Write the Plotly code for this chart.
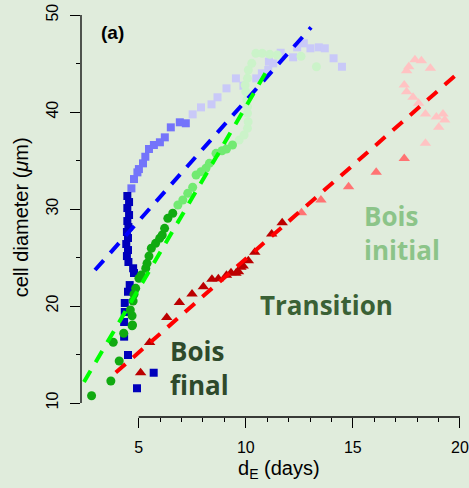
import plotly.graph_objects as go

# ---- measured cell diameters (um) against d_E (days) ----
# blue squares: final / transition / initial wood
blue_final_x = [4.92, 5.70, 4.50, 4.32, 4.32, 4.35, 4.35, 4.50, 4.58, 4.78, 4.74,
                4.52, 4.45, 4.50, 4.42, 4.50, 4.45, 4.52, 4.47, 4.55, 4.47, 4.55, 4.47]
blue_final_y = [11.52, 13.12, 14.95, 16.84, 18.35, 19.38, 20.31, 21.47, 22.16, 23.40, 23.89,
                24.54, 25.15, 25.77, 26.39, 27.01, 27.63, 28.14, 28.76, 29.38, 30.10, 30.72, 31.34]
blue_trans_x = [4.66, 4.78, 4.94, 5.01, 5.20, 5.31, 5.48, 5.71, 5.99, 6.22, 6.50, 6.92, 7.20]
blue_trans_y = [32.13, 33.09, 33.78, 34.12, 34.71, 35.39, 36.19, 36.60, 36.88, 37.39, 38.42, 38.94, 38.84]
blue_init_x = [7.52, 7.91, 8.40, 8.68, 9.10, 9.54, 9.89, 10.49, 10.75, 11.05, 11.08, 11.28,
               11.63, 12.21, 12.40, 12.71, 13.02, 13.41, 13.69, 14.10, 14.49]
blue_init_y = [39.76, 40.48, 40.79, 41.52, 42.44, 43.47, 42.71, 43.47, 43.99, 44.33, 45.19, 45.02,
               46.11, 45.64, 46.67, 47.08, 46.57, 46.67, 46.57, 45.54, 44.67]

# green circles
green_final_x = [2.80, 3.70, 4.09, 3.81, 4.30, 4.69, 4.71, 4.69, 4.61, 4.74, 4.78, 4.86, 5.01,
                 5.12, 5.33, 5.39, 5.48, 5.59, 5.79, 5.98, 6.10, 6.21, 6.36, 6.59]
green_final_y = [10.75, 12.27, 14.33, 16.26, 17.19, 17.97, 18.04, 19.00, 19.59, 20.52, 21.21, 21.82, 22.85,
                 23.20, 23.89, 24.40, 25.15, 25.95, 26.46, 26.98, 27.32, 28.01, 29.04, 29.56]
green_trans_x = [6.83, 7.06, 7.29, 7.52, 7.68, 7.91, 8.14, 8.30, 8.61, 8.89, 9.10, 9.38]
green_trans_y = [30.41, 30.93, 31.62, 32.24, 33.51, 33.85, 34.20, 34.71, 35.74, 36.01, 36.19, 36.60]
green_init_x = [9.69, 9.92, 10.08, 10.11, 10.08, 10.08, 10.05, 10.00, 9.97, 10.08, 10.12, 10.28,
                10.47, 10.77, 11.12, 11.47, 12.58, 13.30]
green_init_y = [37.11, 37.63, 38.32, 39.00, 39.87, 40.55, 41.24, 42.09, 42.78, 43.47, 44.33, 45.02,
                46.05, 46.05, 45.95, 45.88, 45.74, 44.67]

# red triangles
red_final_x = [5.09, 5.51, 6.31, 6.90, 7.49, 8.02, 8.42, 8.72, 9.10, 9.31, 9.54, 9.66,
               9.77, 9.88, 10.12, 10.42, 11.21, 11.70]
red_final_y = [13.12, 16.24, 18.81, 20.36, 21.24, 21.99, 22.75, 22.81, 23.16, 23.43, 23.37, 23.54,
               23.99, 24.12, 24.67, 25.54, 27.42, 28.59]
red_trans_x = [12.60, 13.51, 14.80, 16.09, 17.40]
red_trans_y = [29.62, 30.93, 32.30, 33.78, 35.21]
red_init_x = [18.39, 19.01, 19.29, 18.90, 19.21, 18.39, 18.07, 17.81, 17.51, 17.40, 17.51,
              17.61, 17.90, 18.20, 18.62]
red_init_y = [36.77, 38.42, 39.18, 39.48, 39.79, 39.79, 40.90, 41.52, 42.09, 42.78, 44.26,
              44.67, 45.39, 45.28, 44.51]

# linear fits (end points)
blue_fit_x = [2.96, 13.05]
blue_fit_y = [23.71, 48.73]
green_fit_x = [1.90, 10.96]
green_fit_y = [10.12, 44.16]
red_fit_x = [3.93, 19.76]
red_fit_y = [13.14, 43.71]

x_ticks = [5, 10, 15, 20]
x_minor = [6, 7, 8, 9, 11, 12, 13, 14, 16, 17, 18, 19]
y_ticks = [10, 20, 30, 40, 50]
y_minor = [15, 25, 35, 45]

BG = "#E0ECDC"
FONT = "Liberation Sans, Arial, sans-serif"
LABEL_FONT = "Open Sans, Lato, sans-serif"

fig = go.Figure()


def pts(x, y, symbol, color, size):
    fig.add_trace(go.Scatter(x=x, y=y, mode="markers", showlegend=False,
                             marker=dict(symbol=symbol, color=color, size=size,
                                         line=dict(width=0))))


# lightest groups first so darker points sit on top
pts(blue_init_x, blue_init_y, "square", "#C9C9F8", 8)
pts(green_init_x, green_init_y, "circle", "#CBF3C9", 9)
pts(red_init_x, red_init_y, "triangle-up", "#FFC3C3", 10)
pts(blue_trans_x, blue_trans_y, "square", "#7474FA", 8)
pts(green_trans_x, green_trans_y, "circle", "#72EA72", 9)
pts(red_trans_x, red_trans_y, "triangle-up", "#FF7373", 10)
pts(blue_final_x, blue_final_y, "square", "#0000BB", 8)
pts(green_final_x, green_final_y, "circle", "#11AA11", 9)
pts(red_final_x, red_final_y, "triangle-up", "#BB0000", 10)


def fit(x, y, color):
    fig.add_trace(go.Scatter(x=x, y=y, mode="lines", showlegend=False,
                             line=dict(color=color, width=4, dash="13px,10px")))


fit(blue_fit_x, blue_fit_y, "#0000FF")
fit(green_fit_x, green_fit_y, "#00FF00")
fit(red_fit_x, red_fit_y, "#FF0000")

# detached axis lines
fig.add_shape(type="line", xref="paper", yref="y", x0=0, x1=0, y0=10, y1=50,
              line=dict(color="black", width=1.3))
fig.add_shape(type="line", xref="x", yref="paper", x0=5, x1=20, y0=0, y1=0,
              line=dict(color="black", width=1.3))

fig.add_annotation(text="<b>(a)</b>", xref="paper", yref="paper", x=0.082, y=0.921,
                   xanchor="center", yanchor="middle", showarrow=False,
                   font=dict(family=FONT, size=19, color="black"))
fig.add_annotation(text="cell diameter (<i>\u03bc</i>m)", xref="paper", yref="paper",
                   x=-0.157, y=0.48, xanchor="center", yanchor="middle", textangle=-90,
                   showarrow=False, font=dict(family=FONT, size=20, color="black"))
fig.add_annotation(text="d<sub>E</sub> (days)", xref="paper", yref="paper",
                   x=0.512, y=-0.125, xanchor="center", yanchor="middle", showarrow=False,
                   font=dict(family=FONT, size=20, color="black"))

fig.add_annotation(text="<b>Bois<br>final</b>", x=6.36, y=13.6, xanchor="left", yanchor="middle",
                   align="left", showarrow=False,
                   font=dict(family=LABEL_FONT, size=26, color="#2E4A2B"))
fig.add_annotation(text="<b>Transition</b>", x=10.55, y=20.1, xanchor="left", yanchor="middle",
                   showarrow=False, font=dict(family=LABEL_FONT, size=26, color="#3A6135"))
fig.add_annotation(text="<b>Bois<br>initial</b>", x=15.45, y=27.5, xanchor="left", yanchor="middle",
                   align="left", showarrow=False,
                   font=dict(family=LABEL_FONT, size=26, color="#8CC489"))

fig.update_layout(
    width=469, height=488,
    margin=dict(l=81, r=0, t=0, b=71),
    paper_bgcolor=BG, plot_bgcolor=BG,
    font=dict(family=FONT, size=16, color="black"),
    xaxis=dict(range=[2.306, 20.33], showgrid=False, zeroline=False, showline=False,
               tickmode="array", tickvals=x_ticks, ticks="outside", ticklen=10,
               tickwidth=1.3, tickcolor="black", tickfont=dict(size=16), ticklabelstandoff=6,
               ticklabeloverflow="allow",
               minor=dict(tickmode="array", tickvals=x_minor, ticks="outside",
                          ticklen=4, tickwidth=1.3, tickcolor="black")),
    yaxis=dict(range=[8.557, 51.55], showgrid=False, zeroline=False, showline=False,
               tickmode="array", tickvals=y_ticks, ticks="outside", ticklen=10,
               tickwidth=1.3, tickcolor="black", tickangle=-90, tickfont=dict(size=16),
               ticklabelstandoff=6, ticklabeloverflow="allow",
               minor=dict(tickmode="array", tickvals=y_minor, ticks="outside",
                          ticklen=4, tickwidth=1.3, tickcolor="black")),
)

fig.write_html("out.html")
